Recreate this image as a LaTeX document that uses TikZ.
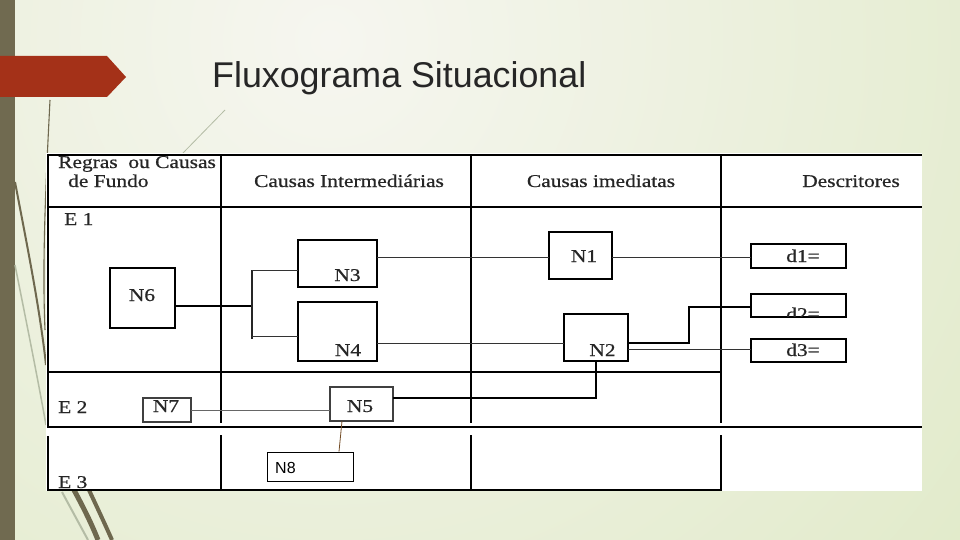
\documentclass[tikz,border=0pt]{standalone}
\usepackage{fontspec}
\setmainfont{Liberation Serif}[FakeBold=0.6]
\newfontfamily\arialf{Liberation Sans}
\usetikzlibrary{calc}
\definecolor{bgout}{RGB}{221,232,194}
\definecolor{bgin}{RGB}{246,246,240}
\definecolor{barc}{RGB}{112,106,80}
\definecolor{redc}{RGB}{164,49,24}
\definecolor{decl}{RGB}{110,104,78}
\definecolor{decg}{RGB}{180,188,165}
\newcommand\sxt[1]{\scalebox{1.19}[1]{#1}}
\tikzset{
  tl/.style={line width=1.8pt, black},
  box/.style={draw=black, line width=1.8pt, fill=white, inner sep=0pt, outer sep=0pt},
  tbox/.style={draw=black!75, line width=1.1pt, fill=white, inner sep=0pt, outer sep=0pt},
  lbl/.style={inner sep=0pt, anchor=base, font=\fontsize{18}{20}\selectfont, text=black!85},
  lblw/.style={lbl, anchor=base west},
  conn/.style={line width=1pt, black!80},
  thk/.style={line width=1.8pt, black},
}
\begin{document}
\begin{tikzpicture}[x=1pt,y=-1pt]
\useasboundingbox (0,0) rectangle (960,540);
% background
\begin{scope}
\clip (0,0) rectangle (960,540);
\fill[bgout] (0,0) rectangle (960,540);
\shade[inner color=bgin, outer color=bgout] (330,40) circle (1000);
\end{scope}
% left bar and red arrow
\fill[barc] (0,0) rectangle (15,540);
\fill[redc] (0,56) -- (107,56) -- (126,77) -- (107,97) -- (0,97) -- cycle;
% decorative lines
\draw[decl, line width=1.1pt] (50,100) .. controls (46,180) and (42,260) .. (45,330);
\draw[decl, line width=2pt] (15,182) .. controls (28,250) and (40,310) .. (46,365);
\draw[decg, line width=1.5pt] (15,265) .. controls (28,330) and (38,380) .. (46,425);
\draw[decg, line width=2pt] (62,492) -- (88,540);
\draw[decl, line width=5pt] (74,490) .. controls (82,505) and (90,520) .. (98,540);
\draw[decl, line width=4pt] (89,490) .. controls (96,505) and (104,522) .. (112,540);
\draw[decg, line width=0.8pt] (225,110) -- (183,153);
% title
\node[anchor=base west, inner sep=0pt, font=\arialf\fontsize{35.8}{40}\selectfont, text=black!85] (title) at (212,88) {Fluxograma Situacional};
% table background
\fill[white] (46,153) rectangle (922,491);
% table lines
\draw[tl] (47,155) -- (922,155);
\draw[tl] (47,207) -- (922,207);
\draw[tl] (47,372) -- (721,372);
\draw[tl] (47,427) -- (922,427);
\draw[tl] (47,490) -- (721,490);
\draw[tl] (48,155) -- (48,427);
\draw[tl] (48,436) -- (48,491);
\foreach \xx in {221,471,721}{
  \draw[tl] (\xx,155) -- (\xx,423);
  \draw[tl] (\xx,435) -- (\xx,491);
}
% header texts
\node[lblw] (h1a) at (58,168) {\sxt{Regras\ \ ou Causas}};
\node[lblw] (h1b) at (68,187) {\sxt{de Fundo}};
\node[lbl] (h2) at (349,187) {\sxt{Causas Intermediárias}};
\node[lbl] (h3) at (601,187) {\sxt{Causas imediatas}};
\node[lbl] (h4) at (851,187) {\sxt{Descritores}};
\node[lblw] (e1) at (64,225) {\sxt{E 1}};
\node[lblw] (e2) at (58,413) {\sxt{E 2}};
\node[lblw] (e3) at (58,488) {\sxt{E 3}};
% boxes
\node[box, minimum width=65pt, minimum height=60pt] (N6) at (142.5,298) {};
\node[box, minimum width=79pt, minimum height=47pt] (N3) at (337.5,263.5) {};
\node[box, minimum width=79pt, minimum height=59pt] (N4) at (337.5,331.5) {};
\node[tbox, minimum width=63pt, minimum height=34pt] (N5) at (361.5,404) {};
\node[tbox, minimum width=48pt, minimum height=24pt] (N7) at (167,410) {};
\node[draw=black, line width=0.9pt, fill=white, inner sep=0pt, minimum width=86pt, minimum height=29pt] (N8) at (310,466.5) {};
\node[box, minimum width=63pt, minimum height=47pt] (N1) at (580.5,255.5) {};
\node[box, minimum width=64pt, minimum height=47pt] (N2) at (596,337.5) {};
\node[box, minimum width=95pt, minimum height=24pt] (d1) at (798.5,256) {};
\node[box, minimum width=95pt, minimum height=23pt] (d2) at (798.5,305.5) {};
\node[box, minimum width=95pt, minimum height=23pt] (d3) at (798.5,350.5) {};
% box labels
\node[lbl] (N6t) at (142,301) {\sxt{N6}};
\node[lbl] (N3t) at (347.5,281) {\sxt{N3}};
\node[lbl] (N4t) at (348,356) {\sxt{N4}};
\node[lbl] (N5t) at (360,412) {\sxt{N5}};
\node[lbl] (N7t) at (166,412) {\sxt{N7}};
\node[lbl] (N1t) at (584,262) {\sxt{N1}};
\node[lbl] (N2t) at (602.5,356) {\sxt{N2}};
\node[lbl] (d1t) at (803,262) {\sxt{d1=}};
\node[lbl] (d3t) at (803,356) {\sxt{d3=}};
\begin{scope}
\clip (752,295) rectangle (845,316);
\node[lbl] (d2t) at (803,320) {\sxt{d2=}};
\end{scope}
\node[anchor=base west, inner sep=0pt, font=\arialf\fontsize{16}{18}\selectfont] (N8t) at (275,473) {N8};
% connectors
\coordinate (jt) at (252,270);
\coordinate (jb) at (252,339);
\coordinate (j6) at (252,306);
\draw[thk] (N6.east |- j6) -- (j6);
\draw[line width=1.3pt, black!85] (jt) -- (jb);
\draw[conn] (jt) -- (N3.west |- jt);
\draw[conn] (jb |- 0,336) -- (N4.west |- 0,336);
\draw[conn] (N3.east |- 0,257) -- (N1.west |- 0,257);
\draw[conn] (N1.east |- 0,257) -- (d1.west |- 0,257);
\draw[conn] (N4.east |- 0,343) -- (N2.west |- 0,343);
\coordinate (b2) at (689,307);
\draw[thk] (N2.east |- 0,343) -| (b2) -- (d2.west |- b2);
\draw[conn] (N2.east |- 0,349) -- (d3.west |- 0,349);
\draw[thk] (N5.east |- 0,398) -| (N2.south);
\draw[line width=1pt, black!60] (N7.east |- 0,410) -- (N5.west |- 0,410);
\draw[line width=0.8pt, brown!60!black] (N5.south -| 342,0) -- (N8.north -| 339,0);
\end{tikzpicture}
\end{document}
